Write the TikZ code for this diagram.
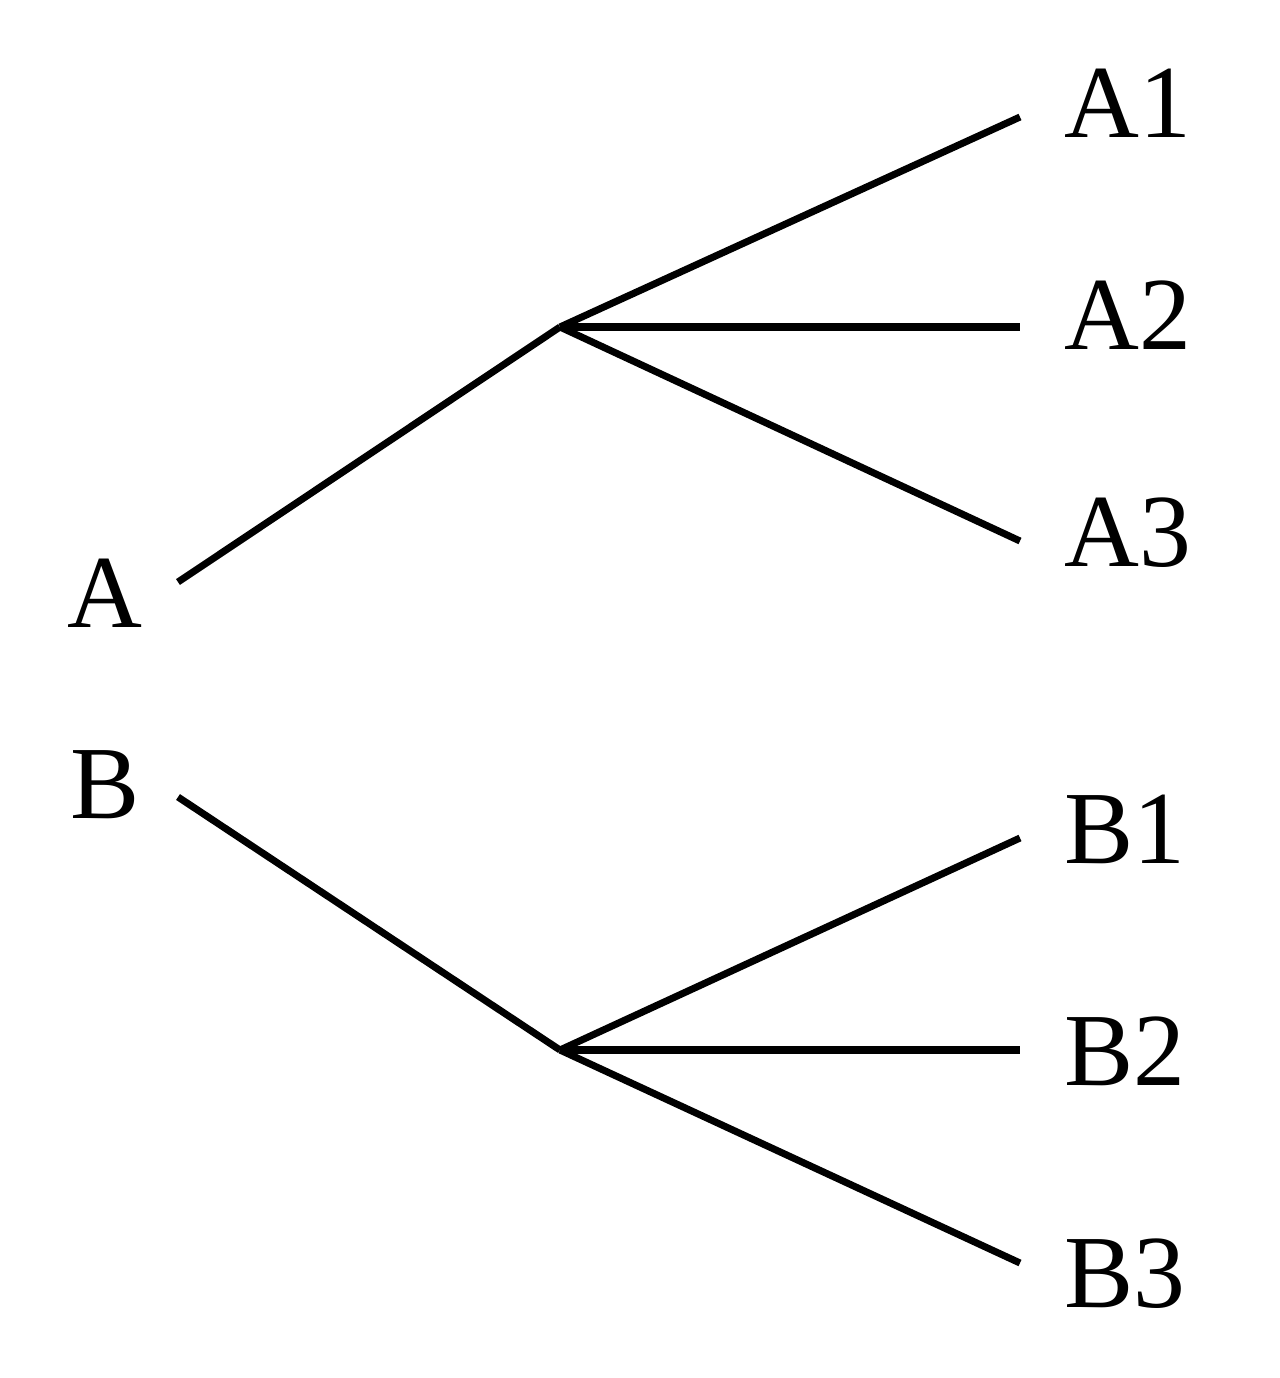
\documentclass[tikz,border=0pt]{standalone}
\usepackage{fontspec}
\setmainfont{Liberation Serif}
\usetikzlibrary{positioning}

\begin{document}
\begin{tikzpicture}[
  x=0.01cm, y=-0.01cm,
  every node/.style={font=\fontsize{29.5}{34}\selectfont, inner sep=0pt, anchor=base west},
  branch/.style={line width=2pt, black},
]
\useasboundingbox (0,0) rectangle (1280,1378);

% --- Roots ---
\node (A) at (67,627) {A};
\node (B) at (70,818) {B};
\coordinate (aStart) at (178,582);
\coordinate (bStart) at (178,797);

% --- Junctions ---
\coordinate (aFork) at (560,327);
\coordinate (bFork) at (560,1050);

% --- Leaf ends and labels ---
\foreach \lab/\y/\base in {A1/117/137, A2/327/349, A3/541/566,
                           B1/838/863, B2/1050/1085, B3/1263/1307} {
  \coordinate (end\lab) at (1020,\y);
  \node (\lab) at (1064,\base) {\lab};
}

% --- Branches ---
\draw[branch] (aStart) -- (aFork);
\draw[branch] (bStart) -- (bFork);
\foreach \lab in {A1, A2, A3} {
  \draw[branch] (aFork) -- (end\lab);
}
\foreach \lab in {B1, B2, B3} {
  \draw[branch] (bFork) -- (end\lab);
}

\end{tikzpicture}
\end{document}
